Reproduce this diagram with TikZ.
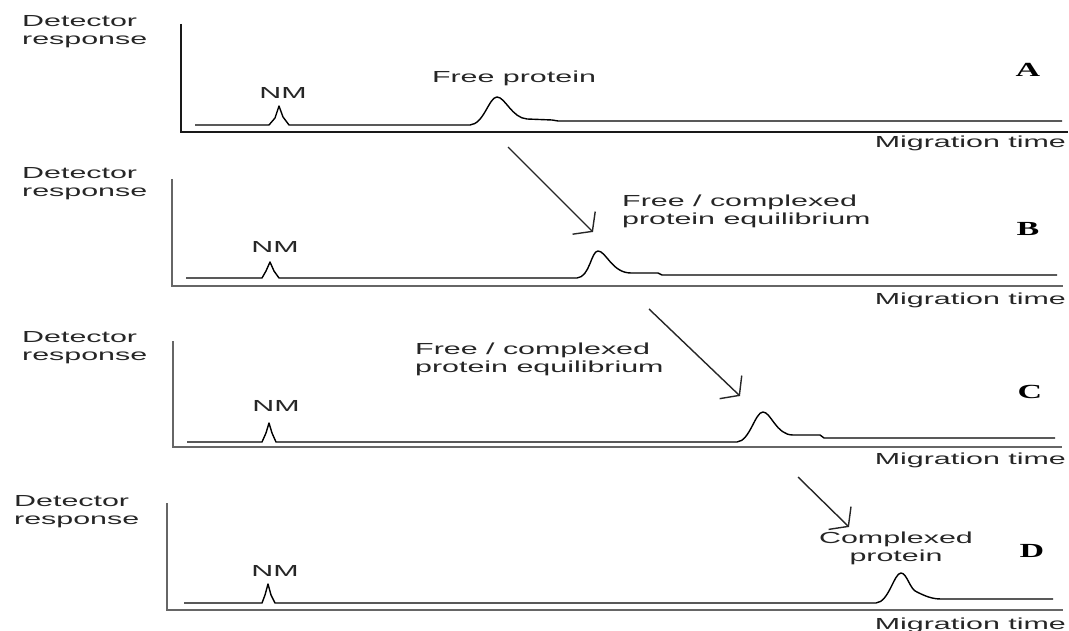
\documentclass[tikz,border=0pt]{standalone}
\usepackage{fontspec}
\setmainfont{Liberation Sans}[FakeStretch=1.9]
\newfontfamily\panelfont{Liberation Serif}[FakeStretch=1.7]
\usetikzlibrary{arrows, arrows.meta}
\usetikzlibrary{calc}

\tikzset{
  axisline/.style={line width=2.2pt, black!60},
  trace/.style={line width=1.4pt, black, line join=round},
  pointer/.style={line width=1.4pt, black!85, -{Straight Barb[length=12pt, width=32pt]}},
  lbl/.style={inner sep=0pt, text=black!85, font=\fontsize{16}{18}\selectfont},
  panel/.style={inner sep=0pt, font=\panelfont\bfseries\fontsize{20}{22}\selectfont},
}

\begin{document}
\begin{tikzpicture}[x=1pt, y=-1pt]
  \useasboundingbox (0,0) rectangle (1069,631);

  % panel A
  \draw[axisline, black!90] (181,24) |- (1068,132);
  \draw[trace] (195,125) -- (269,125) -- (275,118) -- (279,106) -- (283,117) -- (289,125) -- (470,125)
    .. controls (484,124) and (489,97) .. (497,97) .. controls (505,97) and (512,118) .. (527,119)
    -- (552,120) -- (558,121) -- (1062,121);
  \node[lbl, anchor=west, align=left] (detA) at (22,32) {Detector\\response};
  \node[lbl] (nmA) at (283,93) {NM};
  \node[lbl] (freeA) at (514,78) {Free protein};
  \node[panel] (lblA) at (1028,70) {A};
  \node[lbl, anchor=east] (migA) at (1066,143) {Migration time};

  % panel B
  \draw[axisline] (172,179) |- (1063,286);
  \draw[trace] (186,278) -- (262,278) -- (266,271) -- (270,262) -- (274,271) -- (279,278) -- (577,278)
    .. controls (590,277) and (591,251) .. (598,251) .. controls (606,251) and (612,273) .. (631,273)
    -- (658,273) -- (662,275) -- (1057,275);
  \node[lbl, anchor=west, align=left] (detB) at (22,184) {Detector\\response};
  \node[lbl] (nmB) at (275,247) {NM};
  \node[lbl, anchor=west, align=left] (eqB) at (622,211) {Free / complexed\\protein equilibrium};
  \node[panel] (lblB) at (1028,229) {B};
  \node[lbl, anchor=east] (migB) at (1066,300) {Migration time};

  % panel C
  \draw[axisline] (173,341) |- (1062,447);
  \draw[trace] (187,442) -- (262,442) -- (266,433) -- (269,423) -- (272,433) -- (276,442) -- (737,442)
    .. controls (750,441) and (755,412) .. (763,412) .. controls (771,412) and (776,435) .. (793,435)
    -- (820,435) -- (824,438) -- (1055,438);
  \node[lbl, anchor=west, align=left] (detC) at (22,348) {Detector\\response};
  \node[lbl] (nmC) at (276,406) {NM};
  \node[lbl, anchor=west, align=left] (eqC) at (415,359) {Free / complexed\\protein equilibrium};
  \node[panel] (lblC) at (1030,392) {C};
  \node[lbl, anchor=east] (migC) at (1066,460) {Migration time};

  % panel D
  \draw[axisline] (167,503) |- (1063,610);
  \draw[trace] (184,603) -- (262,603) -- (265,595) -- (268,584) -- (271,595) -- (275,603) -- (876,603)
    .. controls (889,602) and (894,573) .. (901,573) .. controls (907,573) and (910,590) .. (917,592)
    .. controls (925,596) and (932,599) .. (941,599) -- (1053,599);
  \node[lbl, anchor=west, align=left] (detD) at (14,512) {Detector\\response};
  \node[lbl] (nmD) at (275,571) {NM};
  \node[lbl, align=center] (cplxD) at (896,548) {Complexed\\protein};
  \node[panel] (lblD) at (1032,551) {D};
  \node[lbl, anchor=east] (migD) at (1066,625) {Migration time};

  % shift arrows
  \coordinate (arrB-s) at (508,147);
  \coordinate (arrB-e) at (593,232);
  \coordinate (arrC-s) at (649,309);
  \coordinate (arrC-e) at (740,396);
  \coordinate (arrD-s) at (798,477);
  \coordinate (arrD-e) at (849,527);
  \draw[pointer] (arrB-s) -- (arrB-e);
  \draw[pointer] (arrC-s) -- (arrC-e);
  \draw[pointer] (arrD-s) -- (arrD-e);
\end{tikzpicture}
\end{document}
